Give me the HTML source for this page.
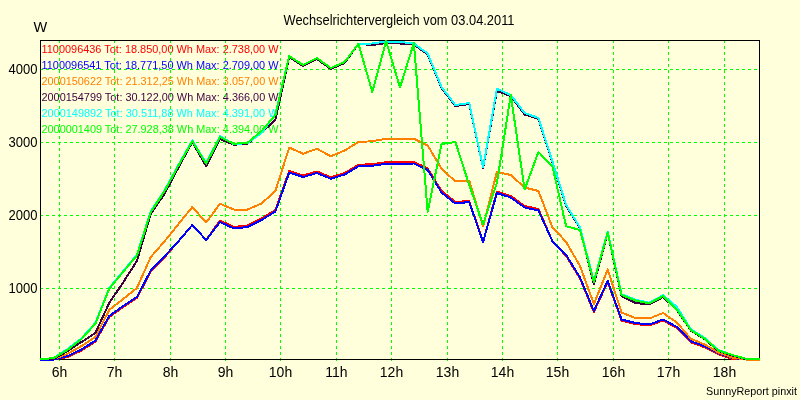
<!DOCTYPE html><html><head><meta charset="utf-8"><style>html,body{margin:0;padding:0;background:#FFFFDC;}svg{display:block}text{font-family:"Liberation Sans",sans-serif}</style></head><body>
<svg width="800" height="400" viewBox="0 0 800 400">
<rect x="0" y="0" width="800" height="400" fill="#FFFFDC"/>
<defs><filter id="crisp" x="0" y="0" width="800" height="400" filterUnits="userSpaceOnUse" color-interpolation-filters="sRGB"><feOffset dx="0" dy="0"/></filter></defs>
<g filter="url(#crisp)">
<text x="283.5" y="25" font-size="14" textLength="231" lengthAdjust="spacingAndGlyphs" fill="#000">Wechselrichtervergleich vom 03.04.2011</text>
<text x="33.5" y="32" font-size="14.5" fill="#000">W</text>
<text x="8.5" y="74" font-size="14" textLength="29" lengthAdjust="spacingAndGlyphs" fill="#000">4000</text>
<text x="8.5" y="147" font-size="14" textLength="29" lengthAdjust="spacingAndGlyphs" fill="#000">3000</text>
<text x="8.5" y="220" font-size="14" textLength="29" lengthAdjust="spacingAndGlyphs" fill="#000">2000</text>
<text x="8.5" y="293" font-size="14" textLength="29" lengthAdjust="spacingAndGlyphs" fill="#000">1000</text>
<text x="41.5" y="53" font-size="11" textLength="237" lengthAdjust="spacingAndGlyphs" fill="#FF0000" xml:space="preserve">1100096436 Tot: 18.850,00 Wh Max: 2.738,00 W</text>
<text x="41.5" y="69" font-size="11" textLength="237" lengthAdjust="spacingAndGlyphs" fill="#0000FF" xml:space="preserve">1100096541 Tot: 18.771,50 Wh Max: 2.709,00 W</text>
<text x="41.5" y="85" font-size="11" textLength="237" lengthAdjust="spacingAndGlyphs" fill="#FF8000" xml:space="preserve">2000150622 Tot: 21.312,25 Wh Max: 3.057,00 W</text>
<text x="41.5" y="101" font-size="11" textLength="237" lengthAdjust="spacingAndGlyphs" fill="#400040" xml:space="preserve">2000154799 Tot: 30.122,00 Wh Max: 4.366,00 W</text>
<text x="41.5" y="117" font-size="11" textLength="237" lengthAdjust="spacingAndGlyphs" fill="#00FFFF" xml:space="preserve">2000149892 Tot: 30.511,88 Wh Max: 4.391,00 W</text>
<text x="41.5" y="133" font-size="11" textLength="237" lengthAdjust="spacingAndGlyphs" fill="#00FF00" xml:space="preserve">2000001409 Tot: 27.928,38 Wh Max: 4.394,00 W</text>
</g>
<path d="M59.5,40V361 M114.5,40V361 M170.5,40V361 M225.5,40V361 M280.5,40V361 M336.5,40V361 M391.5,40V361 M447.5,40V361 M502.5,40V361 M557.5,40V361 M613.5,40V361 M668.5,40V361 M724.5,40V361 M40,69.5H759 M40,142.5H759 M40,215.5H759 M40,288.5H759" stroke="#00FF00" stroke-width="1" stroke-dasharray="3,3" fill="none" shape-rendering="crispEdges"/>
<path d="M40.5,40.5H759.5V359.5H40.5Z" stroke="#000" stroke-width="1" fill="none" shape-rendering="crispEdges"/>
<polyline points="40.00,359.50 53.85,359.50 67.69,357.00 81.54,350.50 95.38,341.50 109.23,317.00 123.08,307.00 136.92,298.00 150.77,271.50 164.62,257.25 178.46,241.25 192.31,225.00 206.15,240.00 220.00,220.50 233.85,227.00 247.69,225.50 261.54,218.50 275.38,210.00 289.23,171.00 303.08,175.50 316.92,171.50 330.77,177.25 344.62,173.00 358.46,164.75 372.31,164.25 386.15,162.25 400.00,162.25 413.85,162.00 427.69,168.50 441.54,191.00 455.38,202.00 469.23,201.00 483.08,242.00 496.92,191.50 510.77,196.00 524.62,206.00 538.46,209.00 552.31,241.00 566.15,256.00 580.00,278.50 593.85,312.00 607.69,282.00 621.54,320.50 635.38,324.00 649.23,325.50 663.08,320.50 676.92,328.00 690.77,342.25 704.62,347.25 718.46,354.25 732.31,359.00 746.15,359.50 760.00,359.50" stroke="#FF0000" stroke-width="2" fill="none" stroke-linejoin="round" shape-rendering="crispEdges"/>
<polyline points="40.00,359.50 53.85,359.50 67.69,356.00 81.54,349.50 95.38,340.50 109.23,316.00 123.08,306.00 136.92,297.00 150.77,270.50 164.62,256.25 178.46,241.25 192.31,225.00 206.15,240.00 220.00,222.00 233.85,228.50 247.69,227.00 261.54,220.00 275.38,211.50 289.23,172.50 303.08,177.00 316.92,173.00 330.77,178.75 344.62,174.50 358.46,166.25 372.31,165.75 386.15,163.75 400.00,163.75 413.85,163.50 427.69,170.00 441.54,192.50 455.38,203.50 469.23,202.00 483.08,242.00 496.92,193.00 510.77,197.50 524.62,207.50 538.46,210.50 552.31,241.00 566.15,255.00 580.00,277.50 593.85,311.00 607.69,281.00 621.54,319.50 635.38,323.00 649.23,324.50 663.08,319.50 676.92,327.00 690.77,341.25 704.62,346.25 718.46,353.25 732.31,358.00 746.15,359.50 760.00,359.50" stroke="#0000FF" stroke-width="2" fill="none" stroke-linejoin="round" shape-rendering="crispEdges"/>
<polyline points="40.00,359.50 53.85,359.00 67.69,353.75 81.54,346.00 95.38,337.00 109.23,310.00 123.08,299.00 136.92,288.00 150.77,257.00 164.62,241.25 178.46,224.00 192.31,207.00 206.15,222.50 220.00,203.75 233.85,209.50 247.69,209.50 261.54,203.50 275.38,191.00 289.23,147.50 303.08,153.75 316.92,148.75 330.77,156.25 344.62,150.50 358.46,142.00 372.31,141.25 386.15,138.75 400.00,138.75 413.85,138.75 427.69,145.50 441.54,168.75 455.38,181.50 469.23,180.50 483.08,226.50 496.92,172.00 510.77,175.00 524.62,187.50 538.46,191.00 552.31,227.00 566.15,242.00 580.00,266.00 593.85,304.00 607.69,269.50 621.54,312.50 635.38,318.00 649.23,318.50 663.08,313.00 676.92,322.50 690.77,338.75 704.62,344.50 718.46,352.50 732.31,357.50 746.15,359.50 760.00,359.50" stroke="#FF8000" stroke-width="2" fill="none" stroke-linejoin="round" shape-rendering="crispEdges"/>
<polyline points="40.00,359.50 53.85,359.00 67.69,351.00 81.54,342.00 95.38,333.00 109.23,303.00 123.08,282.50 136.92,261.00 150.77,213.75 164.62,193.75 178.46,167.50 192.31,142.00 206.15,166.25 220.00,139.00 233.85,144.75 247.69,143.50 261.54,132.50 275.38,120.00 289.23,57.00 303.08,66.00 316.92,59.00 330.77,69.00 344.62,63.00 358.46,44.00 372.31,45.00 386.15,43.00 400.00,43.50 413.85,44.50 427.69,54.50 441.54,88.00 455.38,106.00 469.23,104.00 483.08,168.00 496.92,91.00 510.77,96.00 524.62,114.50 538.46,119.00 552.31,162.00 566.15,206.00 580.00,228.00 593.85,284.00 607.69,233.00 621.54,296.00 635.38,303.00 649.23,304.50 663.08,297.00 676.92,310.00 690.77,330.50 704.62,339.25 718.46,351.00 732.31,355.50 746.15,359.25 760.00,359.50" stroke="#400040" stroke-width="2" fill="none" stroke-linejoin="round" shape-rendering="crispEdges"/>
<polyline points="40.00,359.50 53.85,358.00 67.69,348.95 81.54,338.20 95.38,322.95 109.23,287.95 123.08,271.20 136.92,254.70 150.77,211.20 164.62,190.20 178.46,164.70 192.31,140.45 206.15,162.95 220.00,136.20 233.85,144.25 247.69,143.00 261.54,133.00 275.38,114.00 289.23,56.00 303.08,65.00 316.92,58.00 330.77,68.00 344.62,62.00 358.46,43.75 372.31,43.50 386.15,41.50 400.00,42.00 413.85,43.50 427.69,53.50 441.54,87.00 455.38,105.00 469.23,103.00 483.08,167.50 496.92,88.75 510.77,95.00 524.62,113.00 538.46,118.00 552.31,161.00 566.15,205.00 580.00,227.50 593.85,281.20 607.69,231.70 621.54,294.20 635.38,299.70 649.23,302.70 663.08,295.20 676.92,307.00 690.77,329.00 704.62,338.00 718.46,350.00 732.31,355.00 746.15,358.75 760.00,359.50" stroke="#00FFFF" stroke-width="2" fill="none" stroke-linejoin="round" shape-rendering="crispEdges"/>
<polyline points="40.00,359.50 53.85,358.00 67.69,349.75 81.54,339.00 95.38,323.75 109.23,288.75 123.08,272.00 136.92,255.50 150.77,212.00 164.62,191.00 178.46,165.50 192.31,141.25 206.15,163.75 220.00,137.00 233.85,143.75 247.69,142.50 261.54,131.00 275.38,115.00 289.23,56.00 303.08,65.00 316.92,58.00 330.77,68.00 344.62,62.00 358.46,43.75 372.31,92.00 386.15,41.25 400.00,87.50 413.85,43.00 427.69,212.00 441.54,144.00 455.38,142.00 469.23,185.00 483.08,224.50 496.92,183.00 510.77,95.00 524.62,189.50 538.46,152.00 552.31,166.00 566.15,226.25 580.00,230.00 593.85,282.00 607.69,232.50 621.54,295.00 635.38,300.50 649.23,303.50 663.08,296.00 676.92,309.50 690.77,330.00 704.62,338.75 718.46,350.50 732.31,355.00 746.15,358.75 760.00,359.50" stroke="#00FF00" stroke-width="2" fill="none" stroke-linejoin="round" shape-rendering="crispEdges"/>
<g filter="url(#crisp)">
<text x="59.5" y="377" font-size="14" text-anchor="middle" fill="#000">6h</text>
<text x="114.5" y="377" font-size="14" text-anchor="middle" fill="#000">7h</text>
<text x="170.5" y="377" font-size="14" text-anchor="middle" fill="#000">8h</text>
<text x="225.5" y="377" font-size="14" text-anchor="middle" fill="#000">9h</text>
<text x="280.5" y="377" font-size="14" text-anchor="middle" fill="#000">10h</text>
<text x="336.5" y="377" font-size="14" text-anchor="middle" fill="#000">11h</text>
<text x="391.5" y="377" font-size="14" text-anchor="middle" fill="#000">12h</text>
<text x="447.5" y="377" font-size="14" text-anchor="middle" fill="#000">13h</text>
<text x="502.5" y="377" font-size="14" text-anchor="middle" fill="#000">14h</text>
<text x="557.5" y="377" font-size="14" text-anchor="middle" fill="#000">15h</text>
<text x="613.5" y="377" font-size="14" text-anchor="middle" fill="#000">16h</text>
<text x="668.5" y="377" font-size="14" text-anchor="middle" fill="#000">17h</text>
<text x="724.5" y="377" font-size="14" text-anchor="middle" fill="#000">18h</text>
<text x="706" y="395" font-size="11" textLength="91" lengthAdjust="spacingAndGlyphs" fill="#000">SunnyReport pinxit</text>
</g>
</svg></body></html>
